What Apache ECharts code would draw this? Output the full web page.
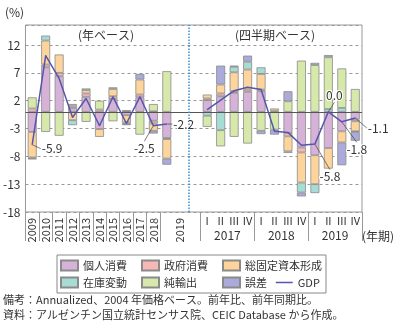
<!DOCTYPE html>
<html><head><meta charset="utf-8">
<script src="https://cdn.jsdelivr.net/npm/echarts@6/dist/echarts.min.js"></script>
<style>html,body{margin:0;padding:0;background:#fff}#c{width:400px;height:329px}</style>
</head><body><div id="c"></div>
<script>
// ---- data ----
const annualYears = ['2009','2010','2011','2012','2013','2014','2015','2016','2017','2018','2019'];
const quarterYears = ['2017','2018','2019'];
const quarterNames = ['I','II','III','IV'];
const seriesNames = ['個人消費','政府消費','総固定資本形成','在庫変動','純輸出','誤差'];

// annual contributions 2009..2019
const consA  = [-3.6, 8.0, 6.4, 0.7, 2.7, -3.1, 2.3, -0.6, 2.6, -1.6, -4.7];
const govA   = [0.6, 0.5, 0.6, 0.4, 0.6, 0.4, 0.5, 0.1, 0.5, -0.5, -0.2];
const gfcfA  = [-4.6, 4.3, 3.3, -1.5, 0.6, -1.4, 1.3, -1.3, 2.7, -1.3, -3.5];
const invA   = [-0.2, 0.9, 0, -0.9, 0.3, 0, 0.3, -0.3, 0, 0.1, 0];
const nexA   = [2.0, -3.6, -4.3, 0.3, -1.8, 1.6, -1.7, 0.2, -4.1, 1.3, 7.3];
const errA   = [-0.1, 0, 0, 0, 0, 0, 0, -0.2, 1.0, -0.5, -1.1];
const gdpA   = [-5.9, 10.1, 6.0, -1.0, 2.4, -2.5, 2.7, -2.1, 2.7, -2.5, -2.2];

// quarterly contributions 2017Q1..2019Q4
const consQ = [2.1, 2.8, 3.4, 3.6, 3.7, 0, -3.8, -6.4, -7.8, -6.5, -3.5, -1.4];
const govQ  = [0.3, 0.5, 0.3, 0.4, 0.3, 0.2, -0.6, -0.9, 0, 0, 0, -0.3];
const gfcfQ = [0.7, 1.6, 3.4, 3.6, 2.8, 0.4, -2.7, -5.4, -5.2, -3.7, -2.0, -1.8];
const invQ  = [-0.7, -3.3, 1.0, 1.4, 1.2, 0, -0.3, -1.8, -1.6, 0.5, 0.7, -0.1];
const nexQ  = [-2.0, -2.9, -4.5, -5.7, -3.4, -3.2, 1.9, 9.2, 8.4, 9.3, 7.1, 4.1];
const errQ  = [0, 3.4, 0.2, 1.1, -0.6, -0.9, 1.8, -0.7, 0.4, 0.4, -4.1, -1.6];
const gdpQ  = [0.4, 2.1, 3.8, 4.4, 4.0, -3.5, -3.7, -6.0, -5.8, 0.0, -1.8, -1.1];

// ---- build ----
const gap = [null, null];
const slotKeys = annualYears.map(y => 'A' + y).concat(['g1', 'g2'],
  quarterYears.flatMap(y => quarterNames.map(q => y + '-' + q)));
const nQ0 = annualYears.length + gap.length; // first quarterly slot
function slots(a, q, keepZero) {
  return a.concat(gap, q).map(v => (v === 0 && !keepZero) ? null : v);
}
const comp = [[consA, consQ], [govA, govQ], [gfcfA, gfcfQ], [invA, invQ], [nexA, nexQ], [errA, errQ]];
const colors = ['#d6b2d8', '#f5b8b6', '#fdd49c', '#a6dcd4', '#d7e9aa', '#aaaadb'];
const boundaryKeys = Array.from({length: slotKeys.length + 1}, (_, i) => 'b' + i);

const FONT = 'Noto Sans CJK JP';
const TXT = '#333';

// label placement for GDP values (style only)
const gdpLabelStyle = {
  0: {position: 'right', dx: 4, dy: 4},
  9: {position: 'bottom', dx: -9, dy: 11},
  10: {position: 'right', dx: 1, dy: 0},
  21: {position: 'bottom', dx: 15, dy: 21},
  22: {position: 'top', dx: 6, dy: -5},
  23: {position: 'bottom', dx: 15, dy: 16},
  24: {position: 'right', dx: 7, dy: 10}
};

const gdpData = slots(gdpA, gdpQ, true).map((v, i) => {
  const s = gdpLabelStyle[i];
  if (!s || v == null) return v;
  return {value: v, label: {show: true, position: s.position}, labelLine: {show: true}};
});

const series = comp.map((c, k) => ({
  name: seriesNames[k], type: 'bar', stack: 'total', barWidth: 9,
  xAxisIndex: 0, yAxisIndex: 0,
  data: slots(c[0], c[1]),
  itemStyle: {color: colors[k], borderColor: '#8a8a8a', borderWidth: 0.8},
  emphasis: {disabled: true}
}));
series[0].markLine = {
  silent: true, symbol: 'none', label: {show: false}, animation: false,
  lineStyle: {color: '#555', width: 1, type: 'solid'},
  data: [{yAxis: 0}]
};
series.push({
  name: 'GDP', type: 'line', xAxisIndex: 0, yAxisIndex: 0,
  data: gdpData, connectNulls: false,
  symbol: 'circle', symbolSize: 1, z: 5,
  lineStyle: {color: '#5656ab', width: 1.5},
  itemStyle: {color: '#5656ab'},
  label: {show: false, formatter: p => Number(p.value).toFixed(1), fontSize: 12,
    fontFamily: FONT, color: TXT, textBorderColor: '#fff', textBorderWidth: 2, distance: 5},
  labelLine: {show: true, lineStyle: {color: '#444', width: 0.7}},
  labelLayout: p => { const s = gdpLabelStyle[p.dataIndex]; return s ? {dx: s.dx, dy: s.dy} : {}; },
  emphasis: {disabled: true}
});
// divider between annual and quarterly parts
series.push({
  type: 'line', xAxisIndex: 3, yAxisIndex: 0, data: [], silent: true,
  markLine: {silent: true, symbol: 'none', label: {show: false}, animation: false,
    lineStyle: {color: '#3b8fd8', width: 1.5, type: 'dotted'},
    data: [{xAxis: 12.15}]}
});

const chart = echarts.init(document.getElementById('c'), null, {renderer: 'canvas'});
chart.setOption({
  animation: false,
  textStyle: {fontFamily: FONT},
  grid: {left: 25, right: 38, top: 25, bottom: 117, show: true, borderColor: '#999', borderWidth: 1},
  xAxis: [
    {type: 'category', data: slotKeys, position: 'bottom',
      axisLine: {show: false, onZero: false},
      axisTick: {show: true, length: 29, interval: i => i <= 10 || i === 13 || i === 17 || i === 21,
        lineStyle: {color: '#999'}},
      axisLabel: {interval: 0, rotate: 90, margin: 6, fontSize: 11, color: TXT,
        formatter: (v, i) => i < annualYears.length - 1 ? annualYears[i] : (i === annualYears.length ? annualYears[annualYears.length - 1] : '')}},
    {type: 'category', data: slotKeys, position: 'bottom',
      axisLine: {show: false, onZero: false}, axisTick: {show: false},
      axisLabel: {interval: 0, margin: 3, fontSize: 11, color: TXT,
        formatter: (v, i) => i >= nQ0 ? quarterNames[(i - nQ0) % 4] : ''}},
    {type: 'category', data: boundaryKeys, boundaryGap: false, position: 'bottom',
      axisLine: {show: false, onZero: false}, axisTick: {show: false},
      axisLabel: {interval: 0, margin: 17, fontSize: 12, color: TXT,
        formatter: (v, i) => { const k = (i - nQ0 - 2) / 4; return (i >= nQ0 && Number.isInteger(k)) ? (quarterYears[k] || '') : ''; }}},
    {type: 'value', min: 0, max: slotKeys.length, show: false, position: 'bottom'}
  ],
  yAxis: [
    {type: 'value', min: -18, max: 15.6, show: false, position: 'left'},
    {type: 'value', min: -15, max: 18.6, interval: 5, position: 'left',
      axisLine: {show: false}, axisTick: {show: false},
      axisLabel: {showMaxLabel: false, margin: 5, fontSize: 12, color: TXT,
        formatter: v => String(Math.round(v - 3))},
      splitLine: {show: true, lineStyle: {color: '#999', type: [3, 3], width: 1}}}
  ],
  legend: {
    left: 57, top: 255, padding: [2, 4, 2, 3], itemGap: 0, itemWidth: 17, itemHeight: 10,
    borderColor: '#888', borderWidth: 1, selectedMode: false,
    textStyle: {fontSize: 11, color: TXT, fontFamily: FONT, lineHeight: 17},
    lineStyle: {width: 1.5},
    data: [
      {name: seriesNames[0], icon: 'rect', textStyle: {width: 58}},
      {name: seriesNames[1], icon: 'rect', textStyle: {width: 58}},
      {name: seriesNames[2], icon: 'rect'},
      '',
      {name: seriesNames[3], icon: 'rect', textStyle: {width: 58}},
      {name: seriesNames[4], icon: 'rect', textStyle: {width: 58}},
      {name: seriesNames[5], icon: 'rect', textStyle: {width: 30}},
      {name: 'GDP', itemStyle: {opacity: 0}}
    ]
  },
  graphic: [
    {type: 'text', x: 14.5, y: 12.5, style: {text: '(%)', fontSize: 12, fontFamily: FONT, fill: TXT, align: 'center', verticalAlign: 'middle', textAlign: 'center', textVerticalAlign: 'middle'}},
    {type: 'text', x: 106, y: 35, style: {text: '(年ベース)', fontSize: 12, fontFamily: FONT, fill: TXT, align: 'center', verticalAlign: 'middle', textAlign: 'center', textVerticalAlign: 'middle'}},
    {type: 'text', x: 275, y: 35, style: {text: '(四半期ベース)', fontSize: 12, fontFamily: FONT, fill: TXT, align: 'center', verticalAlign: 'middle', textAlign: 'center', textVerticalAlign: 'middle'}},
    {type: 'text', x: 378, y: 236, style: {text: '(年期)', fontSize: 12, fontFamily: FONT, fill: TXT, align: 'center', verticalAlign: 'middle', textAlign: 'center', textVerticalAlign: 'middle'}},
    {type: 'text', x: 3, y: 300, style: {text: '備考：Annualized、2004 年価格ベース。前年比、前年同期比。', fontSize: 11, fontFamily: FONT, fill: TXT, align: 'left', verticalAlign: 'middle', textAlign: 'left', textVerticalAlign: 'middle'}},
    {type: 'text', x: 3, y: 315, style: {text: '資料：アルゼンチン国立統計センサス院、CEIC Database から作成。', fontSize: 11, fontFamily: FONT, fill: TXT, align: 'left', verticalAlign: 'middle', textAlign: 'left', textVerticalAlign: 'middle'}}
  ],
  series: series
});
</script></body></html>
